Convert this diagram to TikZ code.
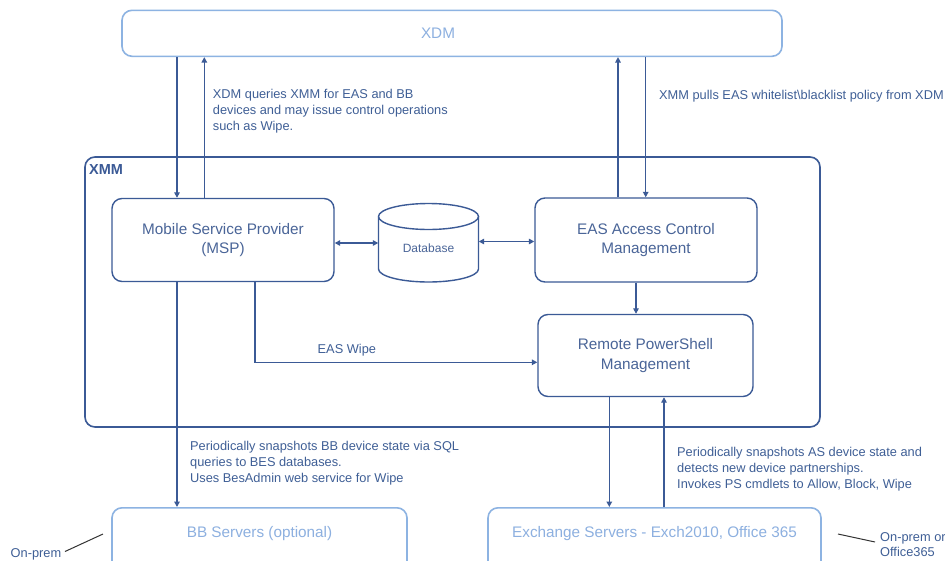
\documentclass[tikz,border=0pt]{standalone}
\usepackage{fontspec}
\setmainfont{Liberation Sans}
\usetikzlibrary{arrows.meta,calc}
\definecolor{darkline}{HTML}{3B5A96}
\definecolor{labeltext}{HTML}{4A6598}
\definecolor{lightline}{HTML}{8DB3E2}
\definecolor{lighttext}{HTML}{8DB0E0}
\definecolor{notetext}{HTML}{3F5F96}
\tikzset{
  darkbox/.style={draw=darkline, line width=1.4pt, rounded corners=10pt, text=labeltext, align=center, font=\fontsize{15.3}{19.5}\selectfont, inner sep=0pt},
  lightbox/.style={draw=lightline, line width=1.6pt, rounded corners=10pt, inner sep=0pt},
  lightlabel/.style={text=lighttext, font=\fontsize{15.3}{18}\selectfont, inner sep=0pt},
  note/.style={text=notetext, align=left, anchor=north west, inner sep=0pt, font=\fontsize{12.8}{15.8}\selectfont},
  arr/.style={draw=darkline, line width=1.4pt, -{Triangle[length=5.5pt,width=5.5pt]}},
  biarr/.style={draw=darkline, line width=1.4pt, {Triangle[length=5.5pt,width=5.5pt]}-{Triangle[length=5.5pt,width=5.5pt]}},
}
\begin{document}
\begin{tikzpicture}[x=1pt,y=-1pt]
\clip (0,0) rectangle (945,560);
\fill[white] (0,0) rectangle (945,560);

% XDM
\node[lightbox, minimum width=660pt, minimum height=46pt] (xdm) at (452,33.3) {};
\node[lightlabel] (xdmlabel) at (438,33) {XDM};

% XMM container
\node[draw=darkline, line width=1.6pt, rounded corners=10pt, minimum width=735pt, minimum height=270pt, inner sep=0pt] (xmm) at (452.5,292) {};
\node[text=darkline, font=\fontsize{14.5}{17}\selectfont\bfseries, anchor=north west, inner sep=0pt] (xmmlabel) at (89,164) {XMM};

% inner boxes
\node[darkbox, minimum width=222pt, minimum height=83pt] (msp) at (223,240) {Mobile Service Provider\\(MSP)};
\node[darkbox, minimum width=222pt, minimum height=84pt] (eas) at (646,240) {EAS Access Control\\Management};
\node[darkbox, minimum width=215pt, minimum height=82pt] (rps) at (645.5,355.5) {Remote PowerShell\\Management};

% database cylinder
\node[minimum width=100pt, minimum height=78pt, inner sep=0pt] (db) at (428.5,243) {};
\draw[darkline, line width=1.4pt] (428.5,216.5) ellipse [x radius=50pt, y radius=13pt];
\draw[darkline, line width=1.4pt] (378.5,216.5) -- (378.5,269) arc[start angle=180, end angle=360, x radius=50pt, y radius=13pt] -- (478.5,216.5);
\node[text=labeltext, font=\fontsize{12}{14}\selectfont, inner sep=0pt] (dblabel) at (428.5,248) {Database};

% bottom boxes
\node[lightbox, minimum width=295pt, minimum height=70pt, anchor=north] (bb) at (259.5,507) {};
\node[lightlabel] (bblabel) at (259.5,533.5) {BB Servers (optional)};
\node[lightbox, minimum width=333pt, minimum height=70pt, anchor=north] (exch) at (654.5,507) {};
\node[lightlabel] (exchlabel) at (654.5,533.5) {Exchange Servers - Exch2010, Office 365};

% XDM <-> MSP
\draw[arr] (177,0 |- xdm.south) -- (177,0 |- msp.north);
\draw[arr] (204.3,0 |- msp.north) -- (204.3,0 |- xdm.south);
% XDM <-> EAS
\draw[arr] (618,0 |- eas.north) -- (618,0 |- xdm.south);
\draw[arr] (645.7,0 |- xdm.south) -- (645.7,0 |- eas.north);
% MSP <-> DB <-> EAS
\draw[biarr] (msp.east |- 0,243) -- (db.west |- 0,243);
\draw[biarr] (db.east |- 0,241.5) -- (eas.west |- 0,241.5);
% EAS -> RPS
\draw[arr] (636,0 |- eas.south) -- (636,0 |- rps.north);
% EAS Wipe
\coordinate (wipecorner) at (255,362.3);
\draw[arr] (255,0 |- msp.south) -- (wipecorner) -- (rps.west |- wipecorner);
\node[text=notetext, font=\fontsize{12.8}{15}\selectfont, anchor=base west, inner sep=0pt] (wipelabel) at (317.5,353) {EAS Wipe};
% MSP -> BB
\draw[arr] (177,0 |- msp.south) -- (177,0 |- bb.north);
% RPS <-> Exchange
\draw[arr] (609.3,0 |- rps.south) -- (609.3,0 |- exch.north);
\draw[arr] (664,0 |- exch.north) -- (664,0 |- rps.south);

% notes
\node[note] (n1) at (212.7,89) {XDM queries XMM for EAS and BB\\devices and may issue control operations\\such as Wipe.};
\node[note] (n2) at (659,90) {XMM pulls EAS whitelist\textbackslash blacklist policy from XDM};
\node[note] (n3) at (190,441) {Periodically snapshots BB device state via SQL\\queries to BES databases.\\Uses BesAdmin web service for Wipe};
\node[note] (n4) at (677,447) {Periodically snapshots AS device state and\\detects new device partnerships.\\Invokes PS cmdlets to Allow, Block, Wipe};

% on-prem callouts
\node[note] (op1) at (10.5,548.5) {On-prem};
\coordinate (op1a) at (65,551.5);
\coordinate (op1b) at (103,534);
\draw[black!80, line width=1pt] (op1a) -- (op1b);
\node[note] (op2) at (880,532) {On-prem or\\Office365};
\coordinate (op2a) at (838,534);
\coordinate (op2b) at (875,542);
\draw[black!80, line width=1pt] (op2a) -- (op2b);
\end{tikzpicture}
\end{document}
